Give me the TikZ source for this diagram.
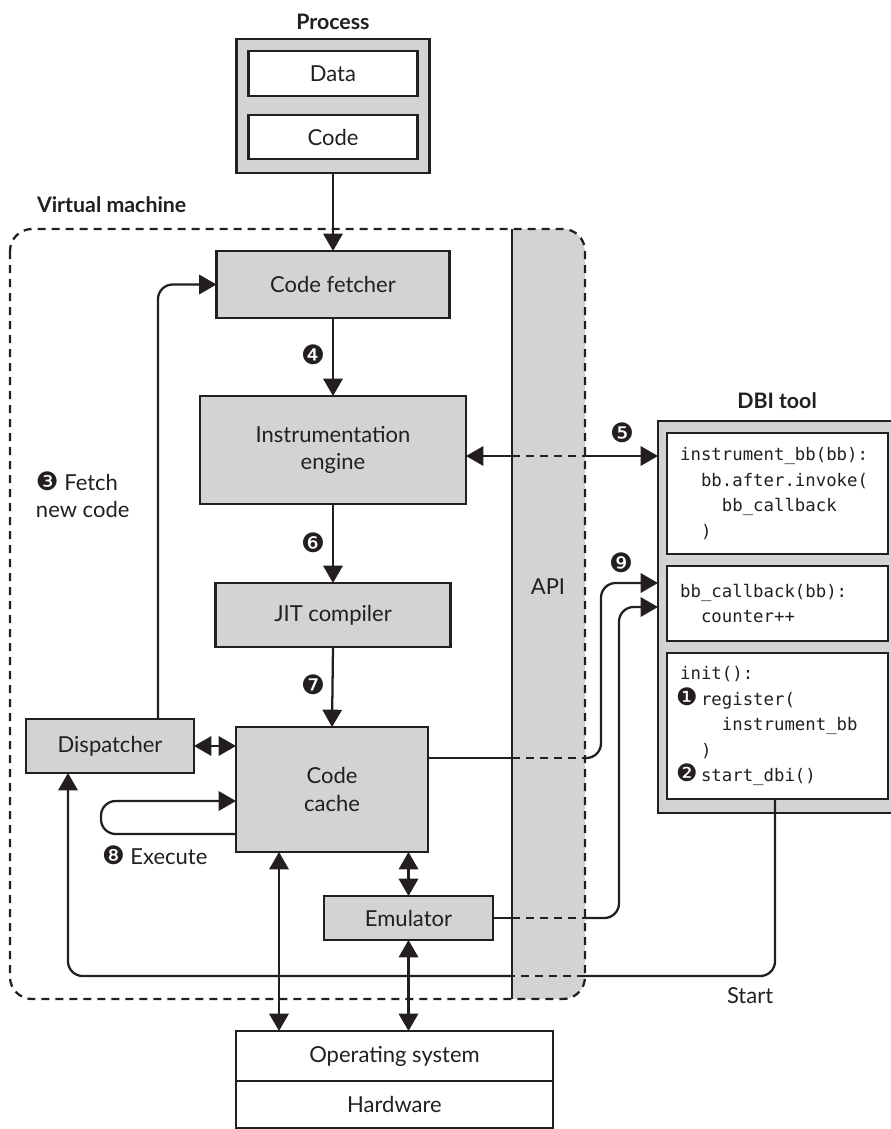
\documentclass[tikz,border=0pt]{standalone}
\usepackage{fontspec}
\setmainfont{Lato}
\setmonofont{DejaVu Sans Mono}
\newfontfamily\dingf{DejaVu Sans}
\usetikzlibrary{arrows.meta}
\definecolor{gry}{RGB}{209,211,212}
\definecolor{ink}{RGB}{35,31,32}
\newcommand{\cnbig}[1]{{\dingf\fontsize{19}{19}\selectfont #1}}
\newcommand{\cncode}[1]{\makebox[15.66pt][r]{{\dingf\fontsize{18}{18}\selectfont #1}\hspace{2.5pt}}}

\begin{document}
\begin{tikzpicture}[x=0.75pt,y=-0.75pt,
  >={Triangle[length=13pt,width=14.5pt]},
  every node/.style={inner sep=0pt, outer sep=0pt, text=ink},
  box/.style={draw=ink, fill=gry, line width=2pt, align=center,
    font=\fontsize{16.5}{20.5}\selectfont},
  wbox/.style={box, fill=white},
  codebox/.style={draw=ink, fill=white, line width=2pt, align=left,
    text width=146pt, minimum width=165.75pt,
    font=\fontsize{13}{19.1}\selectfont\ttfamily},
  lbl/.style={font=\fontsize{16}{19}\selectfont\bfseries},
  txt/.style={font=\fontsize{16.5}{20.25}\selectfont},
  num/.style={font=\dingf\fontsize{20}{20}\selectfont},
  conn/.style={draw=ink, line width=1.7pt},
  dsh/.style={draw=ink, line width=1.7pt, dash pattern=on 6pt off 4.5pt}
]
\useasboundingbox (0,0) rectangle (890,1129);

% API column inside the virtual machine
\begin{scope}
  \clip[rounded corners=16.5pt] (10,229) rectangle (585,999);
  \fill[gry] (512,229) rectangle (585,999);
\end{scope}
\draw[conn] (512,229) -- (512,999);
\draw[dsh, rounded corners=16.5pt] (10,229) rectangle (585,999);
\node[txt] (api) at (548,587) {API};

% Labels
\node[lbl, anchor=base] (proclabel) at (333,29) {Process};
\node[lbl, anchor=base west] (vmlabel) at (37,212) {Virtual machine};
\node[lbl, anchor=base] (dbilabel) at (777,408) {DBI tool};

% Process
\node[box, minimum width=144.75pt, minimum height=100.5pt] (proc) at (333,106) {};
\node[wbox, minimum width=126.75pt, minimum height=33.75pt] (data) at (333,73.5) {Data};
\node[wbox, minimum width=126.75pt, minimum height=33pt] (code) at (333,137) {Code};

% VM components
\node[box, minimum width=174.75pt, minimum height=50.25pt] (fetch) at (333,284.5) {Code fetcher};
\node[box, minimum width=199.5pt, minimum height=81pt] (instr) at (333,450) {Instrumentation\\engine};
\node[box, minimum width=176.25pt, minimum height=48pt] (jit) at (333,615) {JIT compiler};
\node[box, minimum width=144pt, minimum height=93.75pt] (cache) at (332,789.5) {Code\\cache};
\node[box, minimum width=126pt, minimum height=40.5pt] (disp) at (110,746) {Dispatcher};
\node[box, minimum width=126.75pt, minimum height=33pt] (emu) at (408.5,918) {Emulator};

% OS / hardware
\node[wbox, minimum width=237.75pt, minimum height=37.5pt] (os) at (394.5,1056) {Operating system};
\node[wbox, minimum width=237.75pt, minimum height=35.25pt] (hw) at (394.5,1104.5) {Hardware};

% DBI tool
\node[box, minimum width=178.5pt, minimum height=294pt] (dbi) at (777,617) {};
\node[codebox, minimum height=90.75pt] (cinstr) at (777.5,493.5)
  {instrument\_bb(bb):\\\phantom{xx}bb.after.invoke(\\\phantom{xxxx}bb\_callback\\\phantom{xx})};
\node[codebox, minimum height=56.25pt] (cback) at (777.5,603.5)
  {bb\_callback(bb):\\\phantom{xx}counter++};
\node[codebox, minimum height=109.5pt] (init) at (777.5,726)
  {init():\\\cncode{❶}register(\\\phantom{xxxx}instrument\_bb\\\phantom{xx})\\\cncode{❷}start\_dbi()};

% Step numbers and text labels
\node[num] (n4) at (313,355) {❹};
\node[num] (n5) at (622,433) {❺};
\node[num] (n6) at (313,543) {❻};
\node[num] (n7) at (313,685) {❼};
\node[num] (n9) at (621,563) {❾};
\node[txt, anchor=west, align=left] (fetchlbl) at (36,495) {\cnbig{❸} Fetch\\new code};
\node[txt, anchor=base west] (execlbl) at (102,864) {\cnbig{❽} Execute};
\node[txt, anchor=base west] (startlbl) at (727,1003) {Start};

% Helper coordinates
\coordinate (apiL) at (512,0);
\coordinate (apiR) at (585,0);
\coordinate (lx) at (158,0);
\coordinate (y5) at (0,456);
\coordinate (e1) at (0,834);
\coordinate (e2) at (0,801);
\coordinate (ex) at (101,0);
\coordinate (y9a) at (0,758);
\coordinate (y9b) at (0,583);
\coordinate (x9a) at (601,0);
\coordinate (y9c) at (0,607);
\coordinate (x9b) at (619,0);
\coordinate (x279) at (279,0);
\coordinate (ys) at (0,976);
\coordinate (xs) at (775,0);
\coordinate (xd) at (68,0);

% Connectors
\draw[conn,->] (proc.south) -- (fetch.north);
\draw[conn,->,rounded corners=11pt] (disp.north -| lx) |- (fetch.west);
\draw[conn,->] (fetch.south) -- (instr.north);
\draw[conn,->] (instr.south) -- (jit.north);
\draw[conn,->] (jit.south) -- (cache.north);
\draw[conn,<->] (disp.east) -- (disp.east -| cache.west);
\draw[conn,->,rounded corners=11pt] (cache.west |- e1) -- (ex |- e1) -- (ex |- e2) -- (cache.west |- e2);

% step 5
\draw[conn,<-] (instr.east |- y5) -- (apiL |- y5);
\draw[dsh] (apiL |- y5) -- (apiR |- y5);
\draw[conn,->] (apiR |- y5) -- (dbi.west |- y5);

% step 9
\draw[conn] (cache.east |- y9a) -- (apiL |- y9a);
\draw[dsh] (apiL |- y9a) -- (apiR |- y9a);
\draw[conn,->,rounded corners=11pt] (apiR |- y9a) -- (x9a |- y9a) -- (x9a |- y9b) -- (dbi.west |- y9b);
\draw[conn] (emu.east) -- (apiL |- emu.east);
\draw[dsh] (apiL |- emu.east) -- (apiR |- emu.east);
\draw[conn,->,rounded corners=11pt] (apiR |- emu.east) -- (x9b |- emu.east) -- (x9b |- y9c) -- (dbi.west |- y9c);

% OS links
\draw[conn,<->] (cache.south -| x279) -- (os.north -| x279);
\draw[conn,<->] (emu.north |- cache.south) -- (emu.north);
\draw[conn,<->] (emu.south) -- (emu.south |- os.north);

% Start
\draw[conn,rounded corners=11pt] (init.south -| xs) -- (xs |- ys) -- (apiR |- ys);
\draw[dsh] (apiR |- ys) -- (apiL |- ys);
\draw[conn,->,rounded corners=11pt] (apiL |- ys) -- (xd |- ys) -- (xd |- disp.south);
\end{tikzpicture}
\end{document}
